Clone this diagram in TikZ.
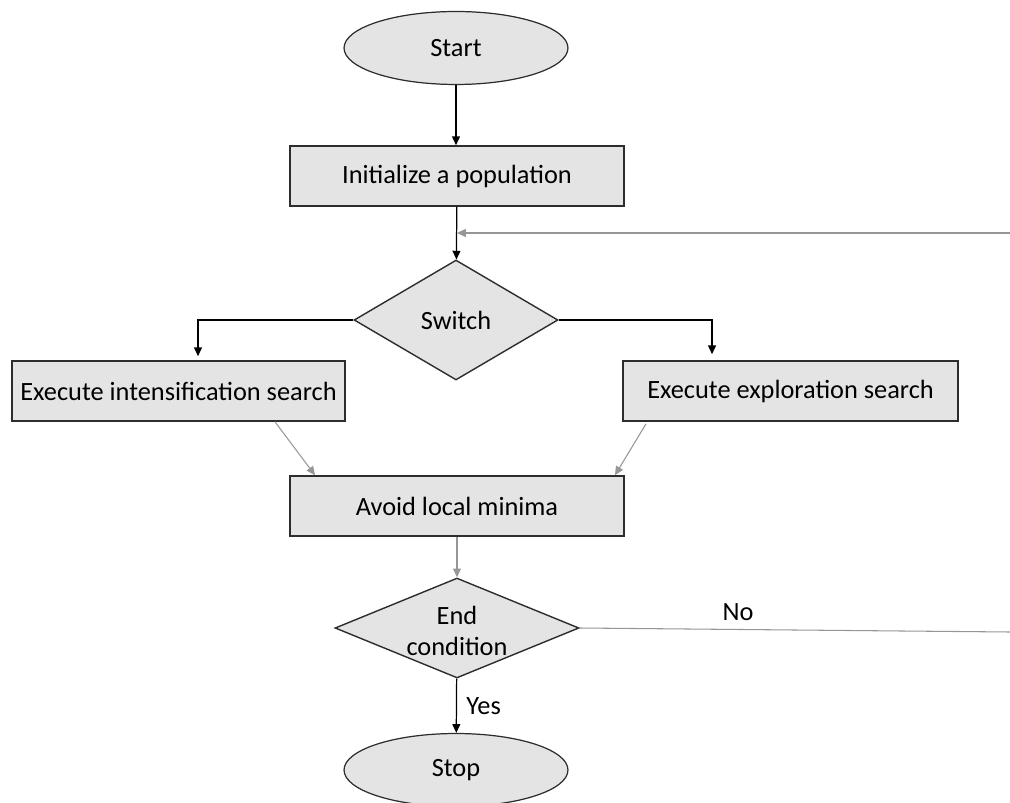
\documentclass[tikz,border=0pt]{standalone}
\usepackage{fontspec}
\setmainfont{Carlito}
\usepackage{color}
\definecolor{mylightgray}{RGB}{228,228,228}
\definecolor{myedge}{RGB}{45,45,45}
\definecolor{mylinkgray}{RGB}{150,150,150}
\usepackage{tikz}
\usetikzlibrary{calc,arrows.meta,shapes.geometric,positioning}

\begin{document}
\begin{tikzpicture}[
  x=0.02cm, y=-0.02cm,
  font=\fontsize{15}{17.5}\selectfont,
  >={Triangle[length=5pt,width=4.5pt]},
  myrect/.style={
    draw=myedge,
    line width=0.9pt,
    fill=mylightgray,
    rectangle,
    minimum width=#1,
    minimum height=1.2cm,
    inner sep=0pt
    },
  myellipse/.style={
    draw=myedge,
    line width=0.7pt,
    fill=mylightgray,
    ellipse,
    minimum width=4.48cm,
    minimum height=1.46cm,
    inner sep=0pt
    },
  mydiamond/.style={
    draw=myedge,
    line width=0.8pt,
    fill=mylightgray,
    diamond,
    aspect=2.44,
    inner sep=0pt,
    align=center
    },
  mainlink/.style={->, black, line width=0.7pt},
  greylink/.style={mylinkgray, line width=0.6pt}
]

\useasboundingbox (0,0) rectangle (1010,803);

\node[myellipse] (start) at (456,48) {Start};
\node[myrect=6.68cm] (init) at (457,176) {Initialize a population};
\node[mydiamond, minimum width=4.08cm, minimum height=2.4cm] (switch) at (456,320) {Switch};
\node[myrect=6.66cm] (intens) at (178.5,391) {Execute intensification search};
\node[myrect=6.7cm] (explor) at (790.5,391) {Execute exploration search};
\node[myrect=6.68cm] (avoid) at (457,506) {Avoid local minima};
\node[mydiamond, minimum width=4.88cm, minimum height=2cm] (endcond) at (457,628) {\rule{0pt}{14pt}End\\condition};
\node[myellipse] (stop) at (456,770) {Stop};

\coordinate (loopback) at (1010,233);
\coordinate (noend) at (1010,632);

\draw[mainlink] (start) -- (start |- init.north);
\draw[mainlink] (init) -- (switch);
\draw[greylink,->] (loopback) -- (init.south |- loopback);
\draw[mainlink] (switch.west) -| ([xshift=0.39cm,yshift=0.08cm]intens.north);
\draw[mainlink] (switch.east) -| ([xshift=-1.57cm,yshift=0.12cm]explor.north);
\draw[greylink,->] ([xshift=1.93cm]intens.south) -- ([xshift=-2.84cm]avoid.north);
\draw[greylink,->] ([xshift=-2.89cm,yshift=-0.04cm]explor.south) -- ([xshift=3.16cm]avoid.north);
\draw[greylink,->] (avoid) -- (endcond);
\draw[mainlink] (endcond) -- node[right, black, xshift=2pt] {Yes} (stop);
\draw[greylink] (endcond.east) -- (noend);
\node[black] (nolabel) at (738,612) {No};

\end{tikzpicture}
\end{document}
